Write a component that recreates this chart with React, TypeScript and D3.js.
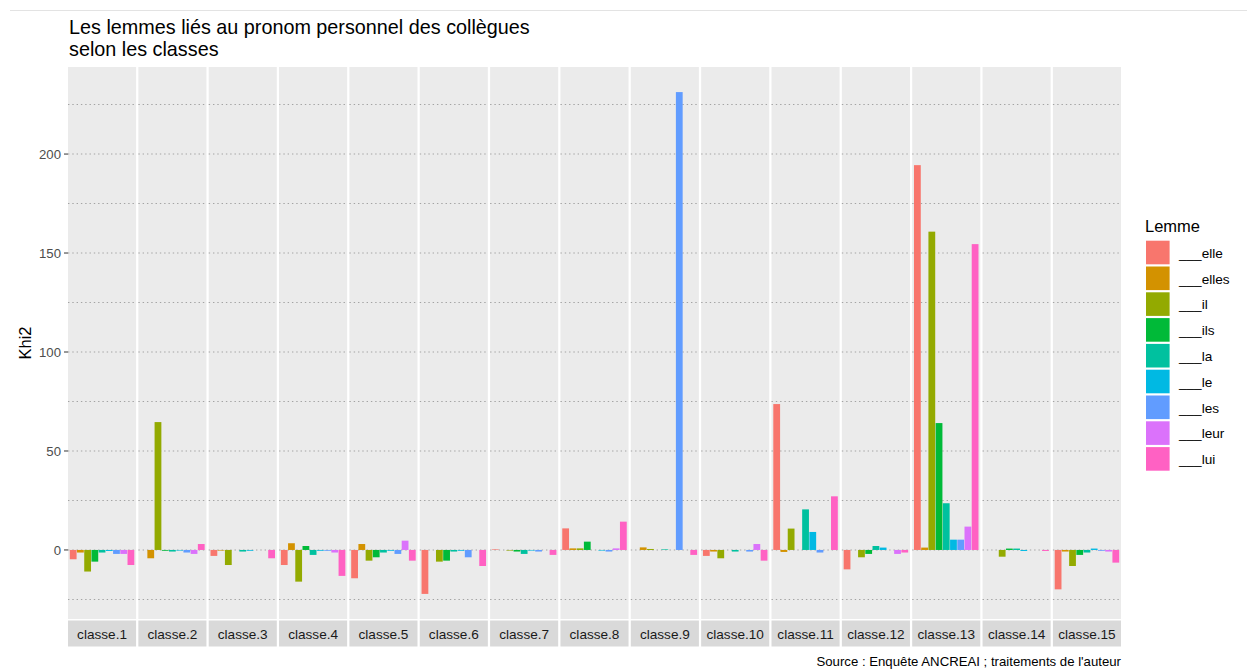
import React from "react";
import * as d3 from "d3";

// Khi2 par lemme (une valeur par classe, classe.1 -> classe.15)
const classes = [
  "classe.1", "classe.2", "classe.3", "classe.4", "classe.5", "classe.6", "classe.7", "classe.8",
  "classe.9", "classe.10", "classe.11", "classe.12", "classe.13", "classe.14", "classe.15",
];
const lemmes = ["___elle", "___elles", "___il", "___ils", "___la", "___le", "___les", "___leur", "___lui"];
const elle = [-4.7, 0, -3, -7.6, -14.3, -22.2, 0.3, 10.9, 0, -3, 73.7, -9.8, 194.4, 0, -19.9];
const elles = [-1.3, -4.2, -0.3, 3.4, 3, 0, 0, 0.8, 1.3, -0.8, -1, 0, 1.2, 0, -0.8];
const il = [-10.9, 64.6, -7.6, -16, -5.4, -5.9, -0.3, 0.8, 0.5, -4.2, 10.8, -3.7, 160.8, -3.4, -8.1];
const ils = [-5.9, -0.4, 0, 2, -3.7, -5.4, -0.8, 4.2, 0, 0, 0, -2, 64.1, 0.7, -2.5];
const la = [-1.3, -0.8, -0.8, -2.5, -1.3, -0.8, -2, 0, 0.3, -0.8, 20.5, 2, 23.6, 0.7, -1.3];
const le = [-0.5, -0.3, -0.4, -0.4, -0.4, -0.4, -0.3, -0.3, 0, 0, 9.1, 1.2, 5.2, -0.5, 0.7];
const les = [-2, -1.3, 0, -0.4, -2, -3.7, -0.8, -0.8, 231.3, -0.8, -1.3, 0, 5.2, 0, -0.4];
const leur = [-2, -2, 0, -1.3, 4.7, 0, 0, 0.8, 0, 3, 0, -2, 11.8, 0, -0.8];
const lui = [-7.6, 3, -4.2, -13.1, -5.4, -8.1, -2.5, 14.3, -2.5, -5.4, 27.1, -1.3, 154.5, -0.5, -6.4];
const series = [elle, elles, il, ils, la, le, les, leur, lui];
const colors = ["#F8766D", "#D39200", "#93AA00", "#00BA38", "#00C19F", "#00B9E3", "#619CFF", "#DB72FB", "#FF61C3"];
const yTicks = [0, 50, 100, 150, 200];

const font = "'Liberation Sans', Arial, sans-serif";

export default function App() {
  const width = 1247;
  const height = 669;
  const left = 68;
  const right = 1121;
  const top = 67;
  const bottom = 619;

  const all = series.flat();
  const lo = d3.min(all)!;
  const hi = d3.max(all)!;
  const pad = (hi - lo) * 0.05;
  const y = d3.scaleLinear().domain([lo - pad, hi + pad]).range([bottom, top]);

  const xPanel = d3.scaleBand().domain(classes).range([left, right]).paddingInner(0.032).paddingOuter(0);
  const pw = xPanel.bandwidth();
  const xBar = d3.scaleBand().domain(lemmes).range([0, pw]).paddingInner(0.06).paddingOuter(0.25);

  const grid = d3.range(-25, 226, 25);
  const color = d3.scaleOrdinal<string, string>().domain(lemmes).range(colors);

  return (
    <svg width={width} height={height} style={{ position: "absolute", left: 0, top: 0, background: "#fff" }} fontFamily={font}>
      <line x1={10} x2={width} y1={10.5} y2={10.5} stroke="#e3e3e3" />
      <text x={69} y={34} fontSize={19.8} fill="#000">Les lemmes liés au pronom personnel des collègues</text>
      <text x={69} y={55.5} fontSize={19.8} fill="#000">selon les classes</text>

      {classes.map((c, ci) => {
        const px = xPanel(c)!;
        return (
          <g key={c}>
            <rect x={px} y={top} width={pw} height={bottom - top} fill="#EBEBEB" />
            {grid.map((g) => (
              <line key={g} x1={px} x2={px + pw} y1={y(g)} y2={y(g)} stroke="#a3a3a3" strokeWidth={1.1} strokeDasharray="1.4,2.9" />
            ))}
            {lemmes.map((l, li) => {
              const v = series[li][ci];
              return (
                <rect
                  key={l}
                  x={px + xBar(l)!}
                  y={Math.min(y(v), y(0))}
                  width={xBar.bandwidth()}
                  height={Math.abs(y(v) - y(0))}
                  fill={color(l)}
                />
              );
            })}
            <rect x={px} y={bottom + 1.5} width={pw} height={26} fill="#D9D9D9" />
            <text x={px + pw / 2} y={bottom + 19.5} textAnchor="middle" fontSize={13.6} fill="#1A1A1A">{c}</text>
          </g>
        );
      })}

      {yTicks.map((t) => (
        <g key={t}>
          <line x1={64} x2={left} y1={y(t)} y2={y(t)} stroke="#333" strokeWidth={1} />
          <text x={61} y={y(t) + 4.6} textAnchor="end" fontSize={13.2} fill="#4D4D4D">{t}</text>
        </g>
      ))}
      <text transform={`translate(31,${(top + bottom) / 2}) rotate(-90)`} textAnchor="middle" fontSize={16.5} fill="#000">Khi2</text>

      <text x={1145} y={232} fontSize={16.5} fill="#000">Lemme</text>
      {lemmes.map((l, i) => {
        const ky = 240.7 + i * 25.8;
        return (
          <g key={l}>
            <rect x={1146} y={ky} width={23.6} height={23.6} fill={color(l)} />
            <text x={1179} y={ky + 17} fontSize={13.6} fill="#000">{l}</text>
          </g>
        );
      })}

      <text x={right} y={666} textAnchor="end" fontSize={13.2} fill="#000">Source : Enquête ANCREAI ; traitements de l'auteur</text>
    </svg>
  );
}
